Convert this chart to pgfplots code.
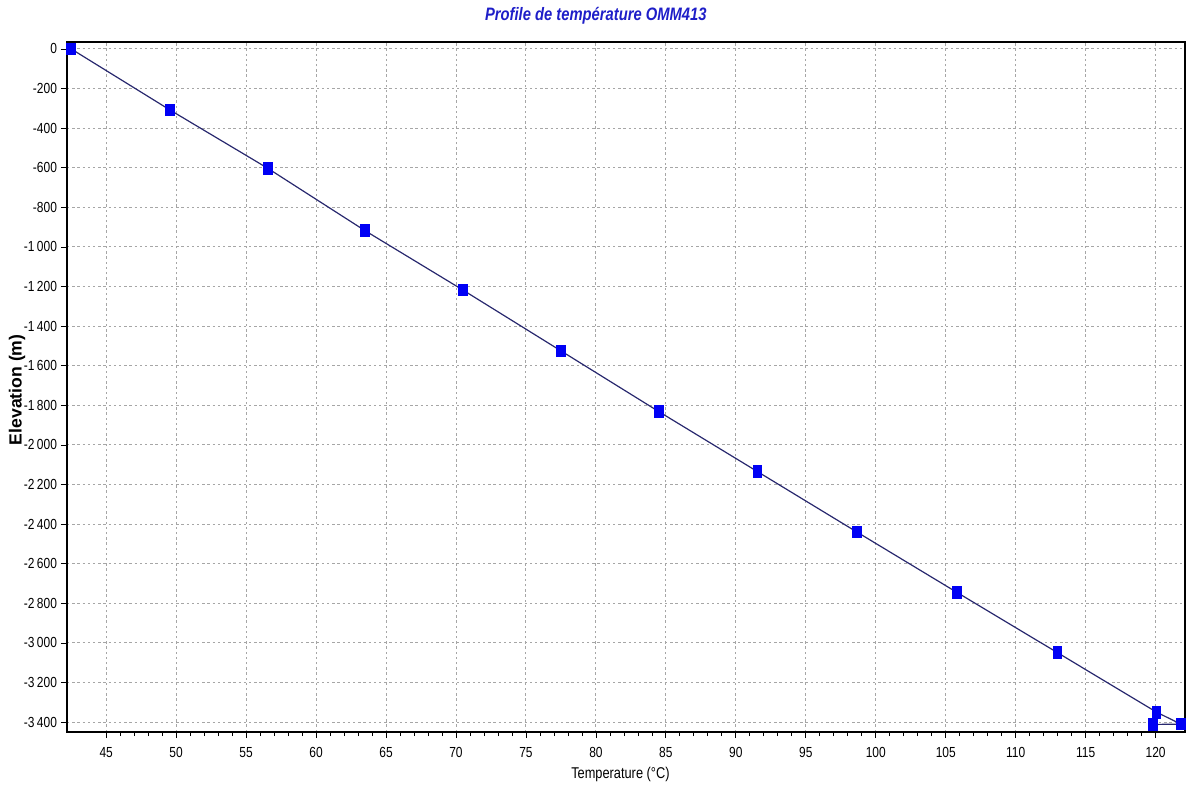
\documentclass[border=0pt]{standalone}
\usepackage{fontspec}
\setmainfont{Liberation Sans}
\newfontfamily\narrow[FakeStretch=0.82]{Liberation Sans}
\usepackage{pgfplots}
\pgfplotsset{compat=1.18}
\definecolor{mk}{RGB}{0,0,245}
\definecolor{ln}{RGB}{40,40,110}
\definecolor{ttl}{RGB}{30,30,200}
\begin{document}
\begin{tikzpicture}
\useasboundingbox (-33.5pt,-27.5pt) rectangle (560pt,366pt);
\begin{axis}[
  scale only axis,
  width=559pt, height=345pt,
  at={(0,0)}, anchor=south west,
  xmin=42.2, xmax=122.1,
  ymin=-3450, ymax=35,
  xtick={45,50,...,120},
  ytick={0,-200,...,-3400},
  xtick pos=bottom, ytick pos=left,
  minor x tick num=4,
  tick align=outside,
  major tick length=3pt,
  minor tick length=2pt,
  axis line style={line width=1.3pt, black},
  every tick/.style={black, line width=0.4pt},
  grid=major,
  major grid style={gray!70, line width=0.5pt, dash pattern=on 1.2pt off 1.4pt},
  /pgf/number format/assume math mode=true,
  /pgf/number format/1000 sep={\,},
  tick label style={font=\narrow\fontsize{7.3}{8}\selectfont, black},
  yticklabel style={xshift=1.5pt},
  xticklabel style={yshift=-1pt},
  title={Profile de température OMM413},
  title style={font=\narrow\fontsize{9}{10}\selectfont\bfseries\itshape, text=ttl,
    at={(axis description cs:0.473,1)}, anchor=center, yshift=7pt},
  xlabel={Temperature (°C)},
  xlabel style={font=\narrow\fontsize{7.8}{9}\selectfont,
    at={(axis description cs:0.495,0)}, anchor=center, yshift=-21pt},
  ylabel={Elevation (m)},
  ylabel style={font=\fontsize{8.8}{10}\selectfont\bfseries,
    at={(axis description cs:0,0.496)}, anchor=center, yshift=25pt},
  clip=false,
]
\addplot[color=ln, line width=0.6pt, mark=square*,
  mark options={fill=mk, draw=mk, xscale=0.8, yscale=1.1}, mark size=2.6pt]
coordinates {
(42.5,0)
(49.55,-308)
(56.55,-603)
(63.5,-918)
(70.5,-1218)
(77.5,-1525)
(84.5,-1832)
(91.55,-2135)
(98.65,-2440)
(105.8,-2745)
(113.0,-3050)
(120.07,-3350)
(121.8,-3410)
(119.8,-3412)
};
\end{axis}
\end{tikzpicture}
\end{document}
